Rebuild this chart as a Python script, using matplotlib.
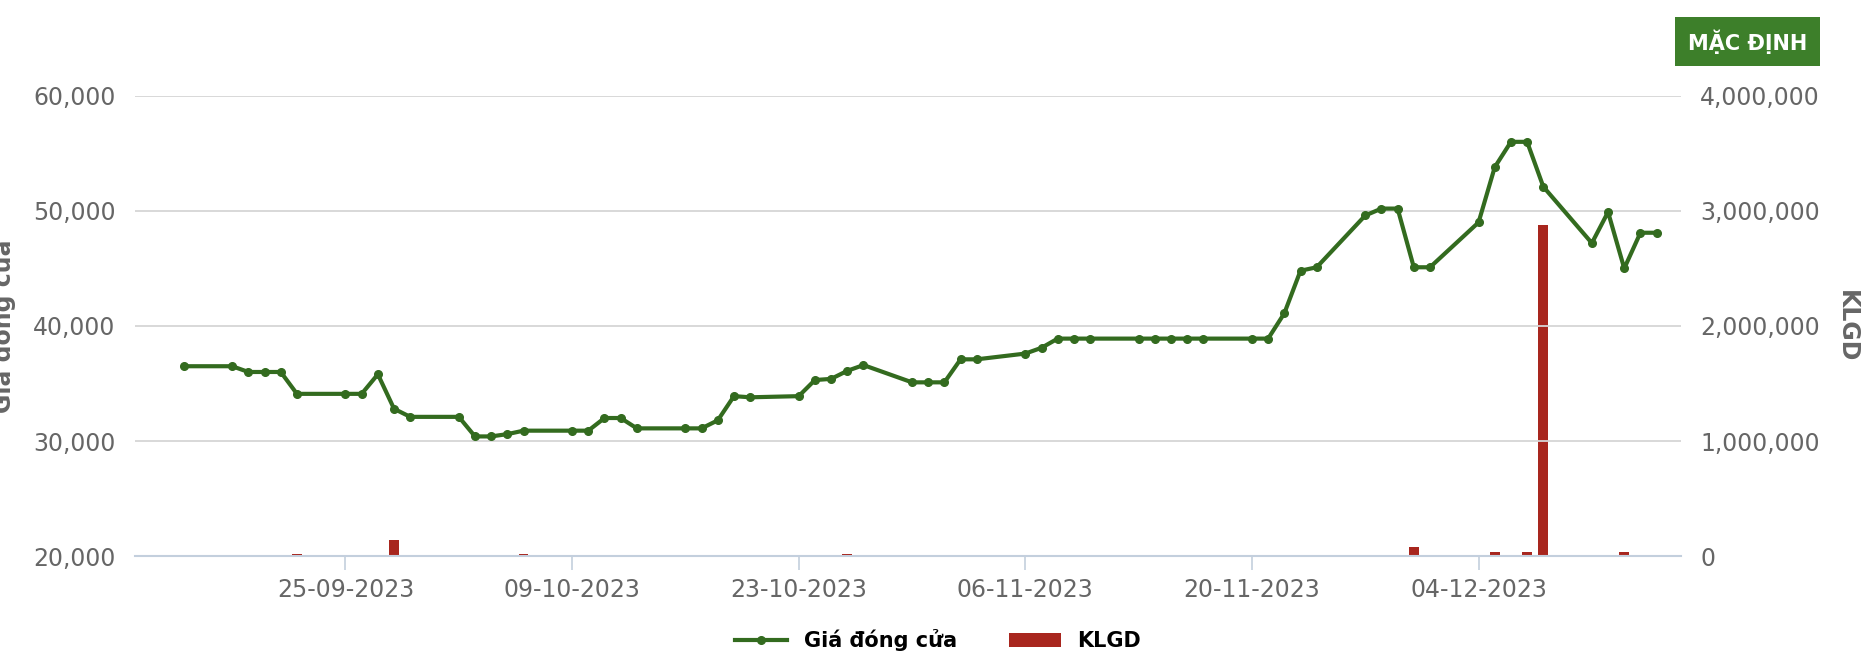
import pandas as pd
import matplotlib.pyplot as plt
import matplotlib.dates as mdates

plt.rcParams['font.family'] = ['Liberation Sans Narrow', 'DejaVu Sans']

# closing price data
dates = pd.to_datetime([
    "2023-09-15", "2023-09-18", "2023-09-19", "2023-09-20", "2023-09-21", "2023-09-22",
    "2023-09-25", "2023-09-26", "2023-09-27", "2023-09-28", "2023-09-29",
    "2023-10-02", "2023-10-03", "2023-10-04", "2023-10-05", "2023-10-06",
    "2023-10-09", "2023-10-10", "2023-10-11", "2023-10-12", "2023-10-13",
    "2023-10-16", "2023-10-17", "2023-10-18", "2023-10-19", "2023-10-20",
    "2023-10-23", "2023-10-24", "2023-10-25", "2023-10-26", "2023-10-27",
    "2023-10-30", "2023-10-31", "2023-11-01", "2023-11-02", "2023-11-03",
    "2023-11-06", "2023-11-07", "2023-11-08", "2023-11-09", "2023-11-10",
    "2023-11-13", "2023-11-14", "2023-11-15", "2023-11-16", "2023-11-17",
    "2023-11-20", "2023-11-21", "2023-11-22", "2023-11-23", "2023-11-24",
    "2023-11-27", "2023-11-28", "2023-11-29", "2023-11-30", "2023-12-01",
    "2023-12-04", "2023-12-05", "2023-12-06", "2023-12-07", "2023-12-08",
    "2023-12-11", "2023-12-12", "2023-12-13", "2023-12-14", "2023-12-15",
])
close_price = [
    36500, 36500, 36000, 36000, 36000, 34100,
    34100, 34100, 35800, 32800, 32100,
    32100, 30400, 30400, 30600, 30900,
    30900, 30900, 32000, 32000, 31100,
    31100, 31100, 31800, 33900, 33800,
    33900, 35300, 35400, 36100, 36600,
    35100, 35100, 35100, 37100, 37100,
    37600, 38100, 38900, 38900, 38900,
    38900, 38900, 38900, 38900, 38900,
    38900, 38900, 41100, 44800, 45100,
    49600, 50200, 50200, 45100, 45100,
    49000, 53800, 56000, 56000, 52100,
    47200, 49900, 45000, 48100, 48100,
]
volume = [
    0, 0, 0, 0, 0, 20000,
    0, 0, 0, 140000, 0,
    0, 0, 0, 0, 15000,
    0, 0, 0, 0, 0,
    0, 0, 0, 0, 0,
    0, 0, 0, 15000, 0,
    0, 0, 0, 0, 0,
    0, 0, 0, 0, 0,
    0, 0, 0, 0, 0,
    0, 0, 0, 0, 0,
    0, 0, 0, 80000, 0,
    0, 35000, 0, 35000, 2880000,
    0, 0, 35000, 0, 0,
]

green = "#336b1f"
red = "#a8261e"
grid_col = "#d6d6d6"
text_col = "#666666"

fig = plt.figure(figsize=(18.76, 6.7), dpi=100)
ax = fig.add_axes([0.072, 0.17, 0.824, 0.687])
ax2 = ax.twinx()

ax2.bar(dates, volume, width=0.6, color=red, label="KLGD", zorder=2)
ax.plot(dates, close_price, color=green, lw=3, marker="o", ms=5.5, label="Giá đóng cửa", zorder=3)
ax.set_zorder(ax2.get_zorder() + 1)
ax.patch.set_visible(False)

ax.set_ylim(20000, 60000)
ax.set_yticks(range(20000, 60001, 10000))
ax.yaxis.set_major_formatter(plt.FuncFormatter(lambda v, p: f"{int(v):,}"))
ax2.set_ylim(0, 4000000)
ax2.set_yticks(range(0, 4000001, 1000000))
ax2.yaxis.set_major_formatter(plt.FuncFormatter(lambda v, p: f"{int(v):,}"))

ax.set_xlim(pd.Timestamp("2023-09-12"), pd.Timestamp("2023-12-16 12:00"))
ticks = pd.to_datetime(["2023-09-25", "2023-10-09", "2023-10-23", "2023-11-06", "2023-11-20", "2023-12-04"])
ax.set_xticks(ticks)
ax.xaxis.set_major_formatter(mdates.DateFormatter("%d-%m-%Y"))

ax.grid(axis="y", color=grid_col, lw=1.3)
ax.set_axisbelow(True)
for a in (ax, ax2):
    for s in a.spines.values():
        s.set_visible(False)
    a.tick_params(axis="y", length=0, labelsize=17, colors=text_col, pad=14)
ax.spines["bottom"].set_visible(True)
ax.spines["bottom"].set_color("#c3cfdd")
ax.spines["bottom"].set_linewidth(1.5)
ax.tick_params(axis="x", length=10, color="#c3cfdd", width=1.2, labelsize=17, colors=text_col, pad=6)

ax.set_ylabel("Giá đóng cửa", fontsize=17, color=text_col, fontweight="bold", labelpad=12)
ax2.set_ylabel("KLGD", fontsize=17, color=text_col, fontweight="bold", rotation=270, labelpad=28)

h1, l1 = ax.get_legend_handles_labels()
h2, l2 = ax2.get_legend_handles_labels()
fig.legend(h1 + h2, l1 + l2, loc="lower center", ncol=2, frameon=False,
           bbox_to_anchor=(0.5, 0.0), handlelength=2.5, columnspacing=2.5,
           prop={"weight": "bold", "size": 15})

fig.text(0.9315, 0.938, "MẶC ĐỊNH", fontsize=15, color="white", fontweight="bold",
         ha="center", va="center",
         bbox=dict(boxstyle="square,pad=0.6", fc="#3d7f2a", ec="none"))

fig.savefig("out.png", dpi=100)
